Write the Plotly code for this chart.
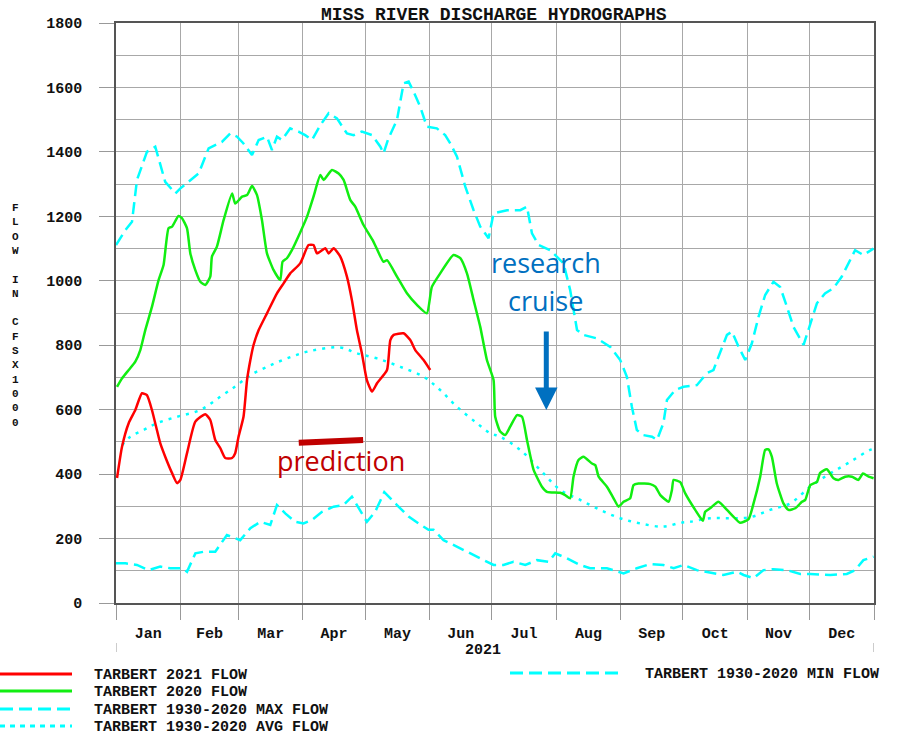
import plotly.graph_objects as go

# ---------------- data (day of year, flow in cfs x 1000) ----------------
red_days = [0.5, 2.9, 6.1, 9.3, 12.5, 14.9, 17.3, 19.7, 21.3, 23.7, 27.0, 29.4, 31.0, 34.2, 38.2,
            43.0, 45.4, 47.8, 50.2, 52.6, 55.9, 57.4, 59.0, 61.4, 63.1, 64.7, 66.2, 68.7, 72.7,
            77.5, 80.7, 83.9, 88.7, 92.7, 95.1, 96.8, 100.8, 102.4, 104.8, 108.0, 111.2, 113.6,
            116.0, 118.4, 120.8, 123.3, 125.7, 130.5, 132.1, 133.7, 138.5, 141.7, 144.1, 148.1, 151.3]
red_vals = [388, 485, 558, 599, 651, 645, 599, 537, 496, 454, 403, 372, 382, 465, 563,
            586, 568, 506, 481, 450, 450, 465, 516, 578, 692, 754, 800, 847, 899,
            961, 992, 1023, 1054, 1111, 1111, 1085, 1101, 1085, 1101, 1075, 1013, 940,
            847, 775, 692, 656, 682, 723, 816, 832, 837, 816, 785, 754, 723]

green_days = [0.5, 2.9, 6.1, 9.3, 11.7, 14.1, 17.3, 20.5, 22.9, 25.3, 27.0, 30.1, 31.8, 34.2, 35.8,
              38.2, 40.6, 43.0, 45.4, 46.2, 48.6, 51.8, 55.9, 57.4, 60.7, 63.1, 65.5, 67.9, 70.3,
              72.7, 75.9, 79.1, 80.2, 82.3, 84.7, 88.7, 92.0, 95.1, 98.4, 100.0, 104.0, 107.2,
              109.6, 112.8, 115.2, 119.2, 124.0, 128.8, 130.5, 135.3, 140.1, 144.9, 149.7, 152.1,
              156.1, 162.5, 165.8, 169.0, 172.2, 175.4, 178.6, 181.8, 182.6, 185.0, 187.4, 189.8,
              193.1, 195.5, 197.9, 201.1, 205.1, 207.5, 213.9, 216.3, 218.7, 220.3, 222.7, 225.1,
              229.2, 230.8, 232.4, 236.4, 239.6, 242.0, 244.4, 247.6, 249.2, 251.6, 257.3, 259.7,
              262.1, 266.1, 267.7, 268.5, 271.7, 274.1, 278.9, 282.6, 283.7, 286.1, 290.1, 294.2,
              297.3, 300.5, 304.6, 307.0, 310.2, 312.6, 314.2, 315.8, 318.2, 321.4, 323.8, 327.1,
              330.3, 331.9, 334.3, 337.5, 339.1, 342.3, 345.5, 347.9, 351.1, 354.4, 357.5, 359.7,
              362.4, 364.8]
green_vals = [671, 697, 723, 749, 785, 847, 919, 1002, 1049, 1163, 1168, 1201, 1194, 1163, 1085,
              1033, 997, 987, 1013, 1075, 1106, 1188, 1271, 1240, 1261, 1266, 1294, 1266, 1188,
              1085, 1033, 1002, 1059, 1070, 1095, 1150, 1199, 1261, 1328, 1313, 1344, 1333,
              1313, 1251, 1230, 1173, 1121, 1059, 1064, 1013, 961, 925, 899, 981,
              1023, 1080, 1070, 1023, 940, 857, 754, 692, 578, 532, 521, 547,
              583, 578, 506, 413, 361, 345, 342, 335, 325, 392, 444, 454,
              433, 428, 392, 361, 325, 299, 314, 325, 366, 371, 369, 361,
              335, 314, 351, 382, 375, 340, 289, 255, 283, 294, 314, 289,
              268, 249, 260, 309, 392, 475, 477, 454, 371, 309, 289, 294,
              314, 320, 366, 376, 404, 415, 387, 382, 392, 392, 382, 402,
              392, 387]

max_days = [0, 4.5, 7.7, 10.1, 14.9, 18.9, 23.7, 28.6, 31.0, 35.0, 39.8, 44.6, 51.0, 55.0, 58.3,
            61.4, 65.5, 68.7, 72.7, 75.1, 77.5, 79.9, 83.9, 87.9, 91.1, 94.4, 98.4, 102.4, 106.4,
            111.2, 114.4, 118.4, 123.3, 127.3, 128.8, 131.2, 135.3, 138.5, 140.9, 143.3, 146.5,
            149.7, 154.5, 158.5, 161.0, 164.2, 168.2, 172.2, 175.4, 179.4, 181.8, 188.3, 194.7,
            197.9, 200.3, 203.5, 207.5, 209.1, 215.5, 218.7, 222.0, 225.1, 231.6, 238.0, 242.8,
            246.0, 248.4, 250.8, 254.0, 258.1, 260.5, 263.6, 265.3, 269.3, 273.3, 279.7, 284.5,
            287.7, 290.1, 294.2, 296.6, 299.8, 303.0, 306.2, 309.4, 312.6, 316.6, 319.8, 323.1,
            326.2, 331.1, 334.3, 337.5, 341.4, 345.5, 349.5, 353.5, 355.9, 359.9, 364.8]
max_vals = [1111, 1157, 1183, 1313, 1400, 1416, 1307, 1271, 1287, 1307, 1333, 1411, 1431, 1457, 1447,
            1426, 1390, 1437, 1447, 1406, 1447, 1437, 1473, 1463, 1452, 1437, 1483, 1520, 1504,
            1457, 1452, 1463, 1452, 1416, 1395, 1442, 1499, 1613, 1618, 1587, 1540,
            1478, 1473, 1452, 1426, 1385, 1292, 1219, 1168, 1132, 1209, 1219, 1219,
            1230, 1147, 1111, 1101, 1095, 1054, 971, 847, 832, 821, 795, 754,
            702, 609, 537, 521, 516, 506, 558, 630, 661, 671, 676, 713,
            723, 764, 832, 842, 795, 754, 806, 888, 956, 997, 981, 919,
            857, 801, 868, 930, 961, 977, 1013, 1064, 1095, 1080, 1100]

avg_days = [2.9, 6.9, 13.3, 19.7, 29.4, 40.6, 50.2, 58.3, 64.7, 72.7, 82.3, 93.5, 108.0, 116.0,
            125.7, 136.9, 148.1, 156.1, 164.2, 173.8, 180.2, 185.0, 194.7, 204.3, 213.9, 223.5,
            233.1, 242.8, 252.4, 263.6, 271.7, 276.5, 286.1, 295.7, 305.3, 315.0, 324.6, 334.3,
            343.9, 353.5, 363.1, 365]
avg_vals = [490, 516, 537, 558, 578, 599, 640, 676, 707, 733, 759, 782, 793, 775,
            759, 733, 702, 661, 609, 558, 527, 516, 475, 413, 351, 320,
            289, 263, 247, 237, 249, 252, 263, 263, 266, 289, 309, 361,
            402, 438, 475, 478]

min_days = [0, 4.5, 10.1, 15.7, 21.3, 26.1, 31.8, 34.2, 38.2, 42.2, 47.8, 53.4, 59.8, 64.7, 69.5,
            74.3, 77.5, 81.5, 86.3, 90.3, 94.4, 99.2, 104.8, 109.6, 113.6, 117.6, 120.8, 124.8,
            129.2, 135.3, 140.9, 145.7, 150.5, 152.9, 157.7, 161.0, 169.0, 177.0, 181.8, 186.6,
            191.4, 197.1, 202.7, 208.3, 211.5, 217.1, 223.5, 228.3, 236.4, 244.4, 250.8, 257.3,
            263.6, 268.5, 273.3, 279.7, 286.1, 292.5, 299.0, 302.2, 307.0, 311.8, 316.6, 323.1,
            329.5, 334.3, 343.9, 351.9, 355.9, 359.9, 364.8]
min_vals = [123, 123, 118, 102, 113, 108, 108, 97, 154, 159, 159, 211, 195, 232, 252,
            242, 304, 278, 252, 247, 258, 283, 299, 304, 330, 289, 252, 283,
            344, 304, 268, 247, 227, 227, 195, 185, 159, 133, 118, 118,
            128, 118, 133, 128, 154, 139, 118, 108, 108, 92, 108, 121,
            118, 108, 118, 102, 94, 87, 97, 87, 77, 102, 105, 102,
            90, 90, 87, 90, 102, 133, 144]

month_starts = [0, 31, 59, 90, 120, 151, 181, 212, 243, 273, 304, 334, 365]
month_labels = ["Jan", "Feb", "Mar", "Apr", "May", "Jun", "Jul", "Aug", "Sep", "Oct", "Nov", "Dec"]
month_mids = [(a + b) / 2 for a, b in zip(month_starts[:-1], month_starts[1:])]

legend_labels = ["TARBERT 2021 FLOW", "TARBERT 2020 FLOW",
                 "TARBERT 1930-2020 MAX FLOW", "TARBERT 1930-2020 AVG FLOW"]
legend_min_label = "TARBERT 1930-2020 MIN FLOW"

pred_x = [88, 119]
pred_y = [497, 506]
arrow_x = 207.2
arrow_tip_y = 599
arrow_tail_y = 847

# ---------------- style ----------------
RED = "#ff0000"
GREEN = "#11ee11"
CYAN = "#00ffff"
GRID = "#a8a8a8"
FRAME = "#555555"
MONO = "Liberation Mono, DejaVu Sans Mono, monospace"
SANS = "Open Sans, Noto Sans, sans-serif"
W, H = 898, 736
L, R, T, B = 116, 874, 23, 603
PW, PH = R - L, B - T


def px(x):
    return (x - L) / PW


def py(y):
    return (B - y) / PH


fig = go.Figure()
fig.add_trace(go.Scatter(x=min_days, y=min_vals, mode="lines",
                         line=dict(color=CYAN, width=2.5, dash="12px,6px")))
fig.add_trace(go.Scatter(x=avg_days, y=avg_vals, mode="lines", line_shape="spline",
                         line=dict(color=CYAN, width=2.5, dash="3px,6px")))
fig.add_trace(go.Scatter(x=max_days, y=max_vals, mode="lines",
                         line=dict(color=CYAN, width=2.5, dash="12px,6px")))
fig.add_trace(go.Scatter(x=green_days, y=green_vals, mode="lines", line_shape="spline",
                         line=dict(color=GREEN, width=2.5, smoothing=0.5)))
fig.add_trace(go.Scatter(x=red_days, y=red_vals, mode="lines", line_shape="spline",
                         line=dict(color=RED, width=2.5, smoothing=0.5)))

shapes = []
annotations = []

# prediction bar
shapes.append(dict(type="line", xref="x", yref="y", x0=pred_x[0], x1=pred_x[1],
                   y0=pred_y[0], y1=pred_y[1], line=dict(color="#c00000", width=6)))
# year boundary ticks
for d in (month_starts[0], month_starts[-1]):
    shapes.append(dict(type="line", xref="x", yref="paper", x0=d, x1=d,
                       y0=py(643), y1=py(652), line=dict(color="#999999", width=1)))

# legend (custom)
legend_styles = [(RED, "solid"), (GREEN, "solid"), (CYAN, "13px,6px"), (CYAN, "5px,5px")]
legend_rows = [674, 691, 709, 726]
for (col, dash), yy, lab in zip(legend_styles, legend_rows, legend_labels):
    shapes.append(dict(type="line", xref="paper", yref="paper", x0=px(0), x1=px(72),
                       y0=py(yy), y1=py(yy), line=dict(color=col, width=3, dash=dash)))
    annotations.append(dict(xref="paper", yref="paper", x=px(92), y=py(yy + 1), text=lab,
                            showarrow=False, xanchor="left", yanchor="middle",
                            font=dict(family=MONO, size=15, color="#111", weight="bold")))
shapes.append(dict(type="line", xref="paper", yref="paper", x0=px(510), x1=px(621),
                   y0=py(673), y1=py(673), line=dict(color=CYAN, width=3, dash="13px,6px")))
annotations.append(dict(xref="paper", yref="paper", x=px(643), y=py(674), text=legend_min_label,
                        showarrow=False, xanchor="left", yanchor="middle",
                        font=dict(family=MONO, size=15, color="#111", weight="bold")))

# title
annotations.append(dict(xref="paper", yref="paper", x=px(494), y=py(15),
                        text="MISS RIVER DISCHARGE HYDROGRAPHS", showarrow=False,
                        xanchor="center", yanchor="middle",
                        font=dict(family=MONO, size=18, color="#111", weight="bold")))
# y-axis label (stacked letters)
ylab = "FLOW IN CFSX1000"
annotations.append(dict(xref="paper", yref="paper", x=px(15), y=py(315),
                        text="<br>".join(c if c != " " else "&nbsp;" for c in ylab),
                        showarrow=False, xanchor="center", yanchor="middle",
                        font=dict(family=MONO, size=11, color="#111", weight="bold")))
# year label
annotations.append(dict(xref="paper", yref="paper", x=px(483), y=py(650), text="2021",
                        showarrow=False, xanchor="center", yanchor="middle",
                        font=dict(family=MONO, size=15, color="#111", weight="bold")))
# research cruise
annotations.append(dict(xref="x", yref="y", x=206.9, y=1058, text="research", showarrow=False,
                        font=dict(family=SANS, size=27, color="#0070c0")))
annotations.append(dict(xref="x", yref="y", x=206.9, y=940, text="cruise", showarrow=False,
                        font=dict(family=SANS, size=27, color="#0070c0")))
annotations.append(dict(xref="x", yref="y", x=arrow_x, y=arrow_tip_y, axref="x", ayref="y",
                        ax=arrow_x, ay=arrow_tail_y, text="", showarrow=True, arrowhead=2,
                        arrowsize=0.9, arrowwidth=5, arrowcolor="#0070c0"))
# prediction
annotations.append(dict(xref="x", yref="y", x=108.5, y=441, text="prediction", showarrow=False,
                        font=dict(family=SANS, size=27, color="#c00000")))

fig.update_layout(
    width=W, height=H,
    margin=dict(l=L, r=W - R, t=T, b=H - B),
    paper_bgcolor="white", plot_bgcolor="white",
    showlegend=False,
    shapes=shapes, annotations=annotations,
    xaxis=dict(range=[0, 365], showline=True, mirror=True, linecolor=FRAME, linewidth=1.5,
               tickmode="array", tickvals=month_mids, ticktext=month_labels,
               ticks="outside", ticklen=15, tickcolor="rgba(0,0,0,0)", showgrid=False,
               zeroline=False,
               tickfont=dict(family=MONO, size=15, color="#111", weight="bold"),
               minor=dict(tickmode="array", tickvals=month_starts, ticks="outside", ticklen=15,
                          tickcolor="#999999", tickwidth=1, showgrid=True, gridcolor=GRID,
                          gridwidth=1)),
    yaxis=dict(range=[0, 1800], showline=True, mirror=True, linecolor=FRAME, linewidth=1.5,
               tick0=0, dtick=200, ticks="outside", ticklen=15, tickcolor="#999999",
               showgrid=True, gridcolor=GRID, gridwidth=1, zeroline=False,
               ticklabelstandoff=14,
               tickfont=dict(family=MONO, size=15, color="#111", weight="bold"),
               minor=dict(dtick=100, showgrid=True, gridcolor=GRID, gridwidth=1)),
)

fig.write_html("out.html", config={"displayModeBar": False},
               post_script="document.body.style.margin='0';")
